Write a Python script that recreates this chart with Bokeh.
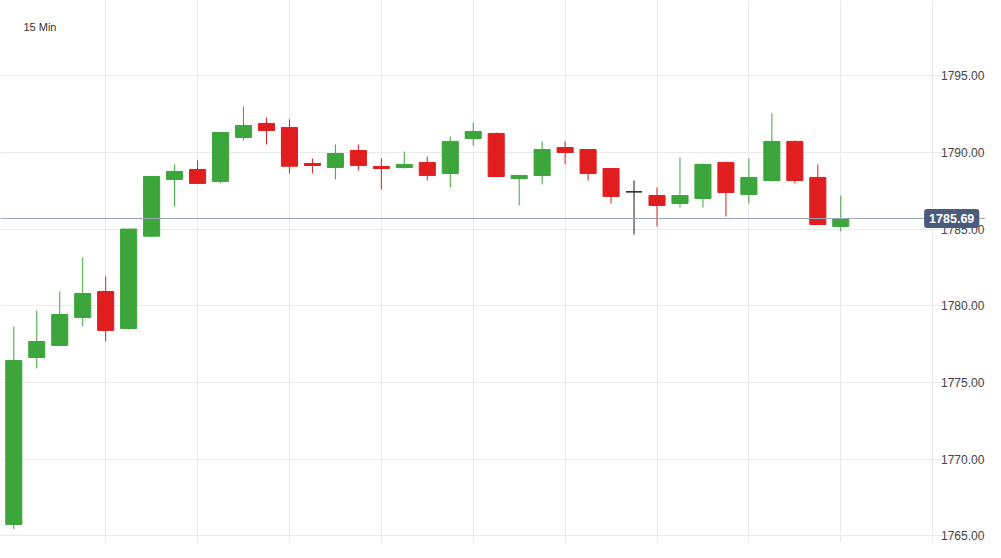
from bokeh.plotting import figure
from bokeh.models import ColumnDataSource, FixedTicker, Span, Label
from bokeh.core.properties import value
from bokeh.embed import file_html
from bokeh.resources import INLINE

# ---- data (15-minute candles) ----
opens = [1765.74, 1776.63, 1777.41, 1779.24, 1780.93, 1778.52, 1784.54, 1788.24, 1788.89, 1788.11,
         1790.98, 1791.89, 1791.63, 1789.28, 1789.02, 1790.13, 1789.08, 1789.02, 1789.35, 1788.63,
         1790.91, 1791.24, 1788.30, 1788.50, 1790.32, 1790.19, 1788.95, 1787.43, 1787.19, 1786.67,
         1787.00, 1789.35, 1787.26, 1788.17, 1790.72, 1788.37, 1785.17]
highs = [1778.65, 1779.69, 1780.93, 1783.15, 1781.91, 1785.00, 1788.45, 1789.22, 1789.48, 1791.30,
         1793.00, 1792.28, 1792.15, 1789.61, 1790.52, 1790.52, 1789.61, 1790.06, 1789.74, 1791.04,
         1791.95, 1791.30, 1788.50, 1790.72, 1790.72, 1790.19, 1788.95, 1788.17, 1787.72, 1789.67,
         1789.28, 1789.41, 1789.61, 1792.54, 1790.78, 1789.22, 1787.19]
lows = [1765.43, 1775.91, 1777.41, 1778.65, 1777.67, 1778.45, 1784.47, 1786.48, 1787.98, 1787.98,
        1790.78, 1790.52, 1788.63, 1788.63, 1788.24, 1788.82, 1787.58, 1788.95, 1788.17, 1787.72,
        1790.45, 1788.43, 1786.54, 1787.91, 1789.22, 1788.17, 1786.67, 1784.65, 1785.17, 1786.41,
        1786.41, 1785.82, 1786.67, 1788.10, 1787.98, 1785.30, 1784.85]
closes = [1776.43, 1777.67, 1779.43, 1780.80, 1778.39, 1785.00, 1788.43, 1788.76, 1787.98, 1791.30,
          1791.76, 1791.43, 1789.10, 1789.15, 1789.93, 1789.15, 1788.95, 1789.22, 1788.50, 1790.72,
          1791.37, 1788.43, 1788.50, 1790.19, 1790.00, 1788.63, 1787.13, 1787.43, 1786.54, 1787.19,
          1789.22, 1787.39, 1788.37, 1790.72, 1788.17, 1785.30, 1785.69]
price_ticks = [1765, 1770, 1775, 1780, 1785, 1790, 1795]
price_tick_labels = ["1765.00", "1770.00", "1775.00", "1780.00", "1785.00", "1790.00", "1795.00"]
time_grid = [4, 8, 12, 16, 20, 24, 28, 32, 36, 40]
last_price = 1785.69
interval_label = "15 Min"

GREEN = "#3ca53b"
RED = "#e11e1f"
BLACK = "#1c1c1c"

idx = list(range(len(opens)))
colors = [GREEN if c > o else (RED if c < o else BLACK) for o, c in zip(opens, closes)]
src = ColumnDataSource(dict(
    x=idx,
    top=[max(o, c) for o, c in zip(opens, closes)],
    bottom=[min(o, c) for o, c in zip(opens, closes)],
    high=highs, low=lows, color=colors,
))

X0, X1 = -0.579, 42.30
p = figure(width=985, height=542,
           x_range=(X0, X1), y_range=(1764.56, 1799.91),
           x_axis_location=None, y_axis_location=None,
           output_backend="svg", toolbar_location=None, min_border=0)
p.outline_line_color = None
p.background_fill_color = "white"
p.border_fill_color = "white"

# grids
p.xgrid.ticker = FixedTicker(ticks=time_grid)
p.ygrid.ticker = FixedTicker(ticks=price_ticks)
p.xgrid.grid_line_color = "#e9e9e9"
p.ygrid.grid_line_color = "#e9e9e9"

# price scale labels (inside the chart, on the right)
label_x = X1 - 0.05
p.text(x=[label_x] * len(price_ticks), y=price_ticks, text=price_tick_labels,
       text_align="right", text_baseline="middle",
       text_font=value("Liberation Sans"), text_font_size="12px", text_color="#444444")

# candles
p.segment(x0="x", y0="low", x1="x", y1="high", color="color", line_width=1, source=src)
p.vbar(x="x", top="top", bottom="bottom", width=0.70, fill_color="color",
       line_color="color", line_width=1, source=src)

# last price line and tag
p.add_layout(Span(location=last_price, dimension="width", line_color="#9aa7b6", line_width=1))
p.add_layout(Label(x=X1 - 0.27, y=last_price, text=f"{last_price:.2f}",
                   text_align="right", text_baseline="middle",
                   text_color="white", text_font="Liberation Sans", text_font_style="bold",
                   text_font_size="12.5px", background_fill_color="#4b5b7a",
                   border_radius=3, padding=5))

# interval label
p.add_layout(Label(x=0.42, y=1798.15, text=interval_label, text_align="left",
                   text_baseline="middle", text_font="Liberation Sans",
                   text_font_size="11px", text_color="#333333"))

open("out.html", "w").write(file_html(p, INLINE))
